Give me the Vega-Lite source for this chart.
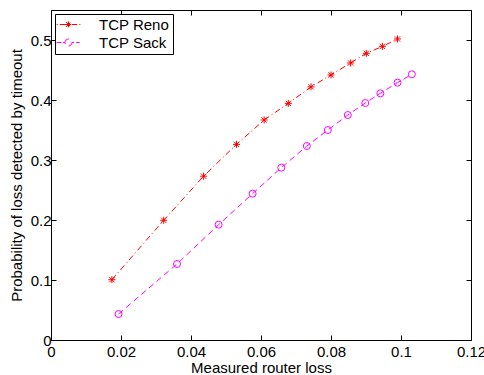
{
  "$schema": "https://vega.github.io/schema/vega-lite/v6.json",
  "width": 420,
  "height": 330,
  "autosize": "none",
  "padding": {"left": 51, "top": 10, "right": 13, "bottom": 35},
  "background": "white",
  "config": {
    "font": "Liberation Sans",
    "view": {"stroke": "black", "strokeWidth": 1},
    "axis": {
      "grid": false,
      "domainColor": "black",
      "tickColor": "black",
      "labelColor": "black",
      "titleColor": "black",
      "labelFont": "Liberation Sans",
      "titleFont": "Liberation Sans",
      "labelFontSize": 15,
      "titleFontSize": 15,
      "titleFontWeight": "normal",
      "tickSize": -5,
      "labelFlush": false,
      "labelBound": false,
      "labelOverlap": false
    }
  },
  "data": {
    "values": [
      {"series": "TCP Reno", "x": 0.0174, "y": 0.1005},
      {"series": "TCP Reno", "x": 0.0322, "y": 0.1995},
      {"series": "TCP Reno", "x": 0.0436, "y": 0.273},
      {"series": "TCP Reno", "x": 0.0530, "y": 0.326},
      {"series": "TCP Reno", "x": 0.0609, "y": 0.3667},
      {"series": "TCP Reno", "x": 0.0678, "y": 0.3944},
      {"series": "TCP Reno", "x": 0.0743, "y": 0.422},
      {"series": "TCP Reno", "x": 0.0800, "y": 0.4417},
      {"series": "TCP Reno", "x": 0.0856, "y": 0.4617},
      {"series": "TCP Reno", "x": 0.0901, "y": 0.4778},
      {"series": "TCP Reno", "x": 0.0947, "y": 0.4894},
      {"series": "TCP Reno", "x": 0.0990, "y": 0.5017},
      {"series": "TCP Sack", "x": 0.0193, "y": 0.0433},
      {"series": "TCP Sack", "x": 0.0360, "y": 0.1267},
      {"series": "TCP Sack", "x": 0.0479, "y": 0.1922},
      {"series": "TCP Sack", "x": 0.0576, "y": 0.2439},
      {"series": "TCP Sack", "x": 0.0658, "y": 0.2872},
      {"series": "TCP Sack", "x": 0.0731, "y": 0.3233},
      {"series": "TCP Sack", "x": 0.0791, "y": 0.35},
      {"series": "TCP Sack", "x": 0.0848, "y": 0.375},
      {"series": "TCP Sack", "x": 0.0898, "y": 0.395},
      {"series": "TCP Sack", "x": 0.0941, "y": 0.4111},
      {"series": "TCP Sack", "x": 0.0990, "y": 0.4289},
      {"series": "TCP Sack", "x": 0.1031, "y": 0.4428}
    ]
  },
  "layer": [
    {
      "mark": {"type": "line", "strokeWidth": 1},
      "encoding": {
        "x": {"field": "x", "type": "quantitative", "scale": {"domain": [0, 0.12], "nice": false},
              "axis": {"orient": "bottom", "title": "Measured router loss", "format": ".2~f",
                       "values": [0, 0.02, 0.04, 0.06, 0.08, 0.1, 0.12], "labelPadding": 9, "titlePadding": 1}},
        "y": {"field": "y", "type": "quantitative", "scale": {"domain": [0, 0.55], "nice": false},
              "axis": {"orient": "left", "title": "Probability of loss detected by timeout", "format": ".1~f",
                       "values": [0, 0.1, 0.2, 0.3, 0.4, 0.5], "labelPadding": 5, "titlePadding": 6}},
        "color": {"field": "series", "type": "nominal",
                  "scale": {"domain": ["TCP Reno", "TCP Sack"], "range": ["#ff0000", "#ff00ff"]},
                  "legend": {"title": null, "orient": "top-left", "offset": 4,
                             "strokeColor": "black", "fillColor": "white", "padding": 3,
                             "labelFont": "Liberation Sans", "labelFontSize": 15, "labelColor": "black",
                             "symbolSize": 49, "symbolStrokeWidth": 1, "symbolOffset": 3, "labelOffset": 23, "rowPadding": 2}},
        "strokeDash": {"field": "series", "type": "nominal",
                       "scale": {"domain": ["TCP Reno", "TCP Sack"], "range": [[6, 3, 1, 3], [6, 4]]},
                       "legend": null}
      }
    },
    {
      "transform": [{"filter": "datum.series === 'TCP Reno'"}],
      "mark": {"type": "point", "filled": false, "strokeWidth": 1, "size": 49, "opacity": 1, "color": "#ff0000",
               "shape": "M-1,0H1M0,-1V1M-0.75,-0.75L0.75,0.75M-0.75,0.75L0.75,-0.75"},
      "encoding": {
        "x": {"field": "x", "type": "quantitative",
              "axis": {"orient": "top", "title": null, "labels": false,
                       "values": [0, 0.02, 0.04, 0.06, 0.08, 0.1, 0.12]}},
        "y": {"field": "y", "type": "quantitative",
              "axis": {"orient": "right", "title": null, "labels": false,
                       "values": [0, 0.1, 0.2, 0.3, 0.4, 0.5]}}
      }
    },
    {
      "transform": [{"filter": "datum.series === 'TCP Sack'"}],
      "mark": {"type": "point", "filled": false, "strokeWidth": 1, "size": 49, "opacity": 1, "color": "#ff00ff",
               "shape": "circle"},
      "encoding": {
        "x": {"field": "x", "type": "quantitative", "axis": null},
        "y": {"field": "y", "type": "quantitative", "axis": null}
      }
    },
    {
      "transform": [{"filter": "datum.x < 0"}],
      "mark": {"type": "point", "filled": false, "strokeWidth": 1, "size": 49, "opacity": 1},
      "encoding": {
        "color": {"field": "series", "type": "nominal"},
        "shape": {"field": "series", "type": "nominal",
                  "scale": {"domain": ["TCP Reno", "TCP Sack"],
                            "range": ["M-3.4,0H-3.1M-2.5,0H-0.9M0.9,0H2.5M3.1,0H3.4M-1,0H1M0,-0.9V0.9M-0.7,-0.7L0.7,0.7M-0.7,0.7L0.7,-0.7",
                                      "M-3.4,0H-2.0M-1.6,0H-1M1,0H1.6M2.2,0H3.2M-1,0A1,1 0 1,1 1,0A1,1 0 1,1 -1,0"]},
                  "legend": null}
      }
    }
  ],
  "resolve": {"axis": {"x": "independent", "y": "independent"}}
}
